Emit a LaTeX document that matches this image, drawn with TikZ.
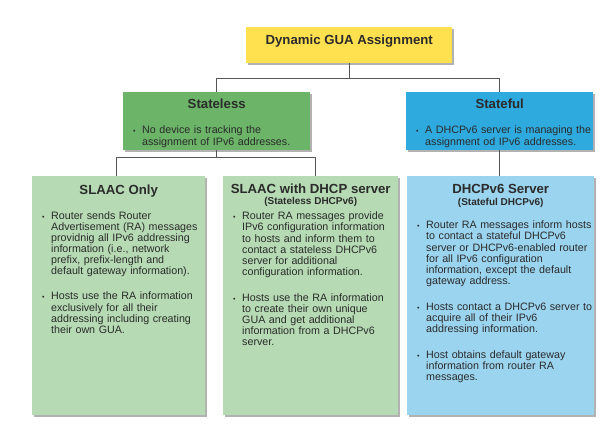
\documentclass[tikz,border=0pt]{standalone}
\usepackage{fontspec}
\setmainfont{Liberation Sans}
\usepackage{enumitem}
\usetikzlibrary{calc, shadows, positioning}

\definecolor{guayellow}{HTML}{FFE04E}
\definecolor{slessgreen}{HTML}{6BB468}
\definecolor{sfulblue}{HTML}{2EAADF}
\definecolor{lightgreen}{HTML}{B6DAB3}
\definecolor{lightblue}{HTML}{9BD4EF}
\definecolor{linkgray}{HTML}{555555}
\definecolor{textgray}{HTML}{2B2B2B}

\setlist[itemize]{label={\fontsize{7}{7}\selectfont\textbullet}, leftmargin=19pt,
  labelwidth=9pt, labelsep=0pt, align=left, topsep=0pt, partopsep=0pt,
  parsep=0pt, itemsep=15pt}

\begin{document}
\begin{tikzpicture}[x=1pt, y=-1pt,
    box/.style={anchor=north west, inner sep=0pt, draw=none,
      drop shadow={shadow xshift=1.5pt, shadow yshift=-1.5pt, fill=black, opacity=0.3}},
    heading/.style={font=\bfseries\fontsize{13.2}{15}\selectfont, text=textgray,
      inner sep=0pt, anchor=base},
    subheading/.style={font=\bfseries\fontsize{10}{12}\selectfont, text=textgray,
      inner sep=0pt, anchor=base},
    bullets/.style={anchor=north west, inner sep=0pt, text width=#1, align=left,
      text=textgray, font=\fontsize{10.7}{11.1}\selectfont},
    link/.style={draw=linkgray, line width=0.9pt}]

    \useasboundingbox (0,0) rectangle (611,431);
    \fill[white] (0,0) rectangle (611,431);

    %define the boxes
    \node[box, fill=guayellow, minimum width=206pt, minimum height=36pt,
      text height=17.3pt, text depth=18.7pt, text=textgray,
      font=\bfseries\fontsize{13.2}{15}\selectfont] (gua) at (246,27) {Dynamic GUA Assignment};
    \node[box, fill=slessgreen, minimum width=187pt, minimum height=58pt] (stateless) at (123,92) {};
    \node[box, fill=sfulblue, minimum width=187pt, minimum height=58pt] (stateful) at (406,92) {};
    \node[box, fill=lightgreen, minimum width=173pt, minimum height=239pt] (slaac) at (32,176) {};
    \node[box, fill=lightgreen, minimum width=175pt, minimum height=239pt] (slaacdhcp) at (223,176) {};
    \node[box, fill=lightblue, minimum width=187pt, minimum height=239pt] (dhcpserver) at (407,176) {};

    %define the headings
    \node[heading] (statelesshead) at ($(stateless.north)+(0,16.3)$) {Stateless};
    \node[heading] (statefulhead) at ($(stateful.north)+(0,16.3)$) {Stateful};
    \node[heading] (slaachead) at ($(slaac.north)+(0,18)$) {SLAAC Only};
    \node[heading] (slaacdhcphead) at ($(slaacdhcp.north)+(0,17.5)$) {SLAAC with DHCP server};
    \node[subheading] (slaacdhcpsub) at ($(slaacdhcp.north)+(0,28.6)$) {(Stateless DHCPv6)};
    \node[heading] (dhcpserverhead) at ($(dhcpserver.north)+(0,17.5)$) {DHCPv6 Server};
    \node[subheading] (dhcpserversub) at ($(dhcpserver.north)+(0,29)$) {(Stateful DHCPv6)};

    %define the bullet texts
    \node[bullets=187pt, font=\fontsize{10.7}{12.3}\selectfont] (statelesstext)
      at ($(stateless.north west)+(0,28.8)$) {%
      \begin{itemize}
        \item No device is tracking the\\assignment of IPv6 addresses.
      \end{itemize}};
    \node[bullets=187pt, font=\fontsize{10.7}{12.3}\selectfont] (statefultext)
      at ($(stateful.north west)+(0,28.8)$) {%
      \begin{itemize}
        \item A DHCPv6 server is managing the\\assignment od IPv6 addresses.
      \end{itemize}};
    \node[bullets=173pt] (slaactext) at ($(slaac.north west)+(0,32)$) {%
      \begin{itemize}[itemsep=14pt]
        \item Router sends Router\\Advertisement (RA) messages\\providnig all IPv6 addressing\\
          information (i.e., network\\prefix, prefix-length and\\default gateway information).
        \item Hosts use the RA information\\exclusively for all their\\
          addressing including creating\\their own GUA.
      \end{itemize}};
    \node[bullets=175pt] (slaacdhcptext) at ($(slaacdhcp.north west)+(0,32.5)$) {%
      \begin{itemize}
        \item Router RA messages provide\\IPv6 configuration information\\
          to hosts and inform them to\\contact a stateless DHCPv6\\server for additional\\
          configuration information.
        \item Hosts use the RA information\\to create their own unique\\
          GUA and get additional\\information from a DHCPv6\\server.
      \end{itemize}};
    \node[bullets=187pt] (dhcpservertext) at ($(dhcpserver.north west)+(0,41.5)$) {%
      \begin{itemize}
        \item Router RA messages inform hosts\\to contact a stateful DHCPv6\\
          server or DHCPv6-enabled router\\for all IPv6 configuration\\
          information, except the default\\gateway address.
        \item Hosts contact a DHCPv6 server to\\acquire all of their IPv6\\
          addressing information.
        \item Host obtains default gateway\\information from router RA\\messages.
      \end{itemize}};

    %define the links
    \draw[link] (gua.south) -- ++(0,15) coordinate (gasplit) -| (stateless.north);
    \draw[link] (gasplit) -| (stateful.north);
    \draw[link] (stateless.south) -- ++(0,7) coordinate (slsplit) -| ([xshift=-2pt]slaac.north);
    \draw[link] (slsplit) -| ([xshift=5pt]slaacdhcp.north);
    \draw[link] (stateful.south) -- (stateful.south |- dhcpserver.north);
\end{tikzpicture}
\end{document}
